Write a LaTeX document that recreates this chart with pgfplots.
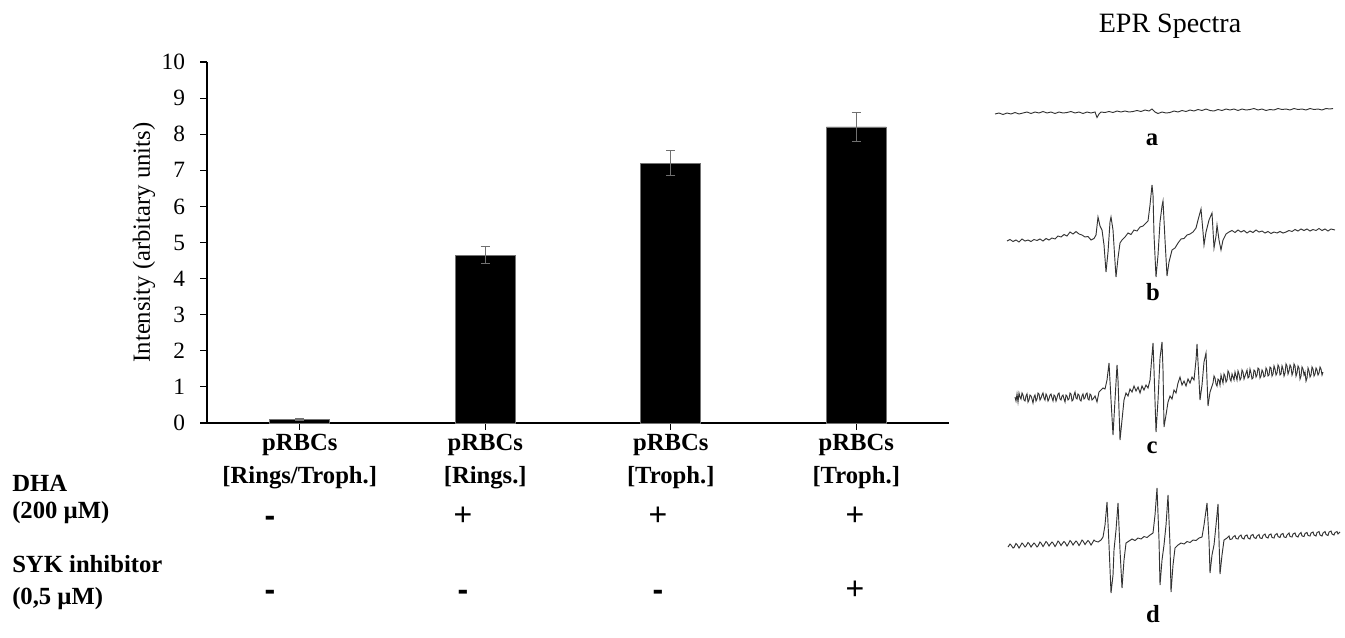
\documentclass[border=0pt]{standalone}
\usepackage{pgfplots}
\pgfplotsset{compat=1.18}
\usepackage{fontspec}
\setmainfont{Liberation Serif}
\newfontfamily\sansf{Liberation Sans}
\definecolor{spec}{HTML}{333333}
\definecolor{errc}{HTML}{707070}
\begin{document}
\begin{tikzpicture}
\useasboundingbox (0,0) rectangle (1008.75pt,-478.5pt);
% ---------------- bar chart ----------------
\begin{axis}[
  at={(155.25pt,-317.25pt)}, anchor=south west,
  scale only axis, width=556.5pt, height=270.75pt,
  ybar, bar width=45pt,
  xmin=-0.5, xmax=3.5, ymin=0, ymax=10,
  xtick={0,1,2,3},
  xticklabels={{pRBCs\\{}[Rings/Troph.]},{pRBCs\\{}[Rings.]},{pRBCs\\{}[Troph.]},{pRBCs\\{}[Troph.]}},
  xticklabel style={font=\bfseries\fontsize{18.5}{24.75}\selectfont, align=center},
  ytick={0,1,2,3,4,5,6,7,8,9,10},
  yticklabel style={font=\fontsize{17.5}{20}\selectfont, xshift=-8pt},
  /pgf/number format/assume math mode=true,
  axis x line=bottom, axis y line=left,
  axis line style={-, line width=0.8pt, black},
  tick align=outside, major tick length=5pt,
  tick style={line width=0.8pt, black},
  ylabel={Intensity (arbitary units)},
  ylabel style={font=\fontsize{18.5}{22}\selectfont, yshift=-2pt},
  clip=false,
]
\addplot[fill=black, draw=black!55, line width=0.5pt,
  error bars/.cd, y dir=both, y explicit,
  error bar style={errc, line width=0.8pt},
  error mark options={rotate=90, errc, line width=0.8pt, mark size=3.5pt}]
  coordinates {(0,0.1) +- (0,0.02) (1,4.65) +- (0,0.23) (2,7.2) +- (0,0.35) (3,8.2) +- (0,0.4)};
\end{axis}
% ---------------- EPR spectra ----------------
\begin{axis}[
  at={(735pt,-480pt)}, anchor=south west,
  scale only axis, width=273.75pt, height=420pt,
  xmin=980, xmax=1345, ymin=80, ymax=640, y dir=reverse,
  hide axis, clip=false,
]
% a
\addplot[spec, line width=0.7pt] coordinates {
(995,114) (999,113) (1003,114.5) (1007,113) (1011,114) (1015,112.5) (1019,114) (1023,113) (1027,112) (1031,113.5)
(1035,112) (1039,113) (1043,111.5) (1047,113) (1051,112) (1055,113.5) (1059,112) (1063,113) (1067,112.5) (1071,111.5)
(1075,113) (1079,112) (1083,113.5) (1087,112) (1091,113) (1095,112) (1097,117.5) (1099,114) (1101,112) (1105,112.5)
(1109,111.5) (1113,112.5) (1117,111) (1121,112) (1125,111) (1129,112) (1133,111.5) (1137,110.5) (1141,111.5) (1145,110)
(1149,111) (1152,109) (1155,112) (1158,113.5) (1162,112) (1166,113) (1170,112.5) (1174,111) (1178,112) (1182,110.5)
(1186,111.5) (1190,110) (1194,111) (1198,109.5) (1202,110.5) (1206,109) (1210,110.5) (1214,111) (1218,109.5) (1222,110.5)
(1226,109) (1230,110) (1234,109) (1238,110.5) (1242,109) (1246,110) (1250,109.5) (1254,108.5) (1258,110) (1262,109)
(1266,110.5) (1270,109.5) (1274,110) (1278,108.5) (1282,109.5) (1286,109) (1290,110) (1294,108.5) (1298,109.5) (1302,109)
(1306,110) (1310,108.5) (1314,109.5) (1318,109) (1322,110) (1326,108.5) (1330,109) (1333,108.5)};
% b
\addplot[spec, line width=0.7pt] coordinates {
(1007,241) (1010,239.5) (1013,241.5) (1016,240) (1019,242) (1022,239) (1025,241) (1028,240) (1031,241.5) (1034,239.5)
(1037,240.5) (1040,239) (1043,241) (1046,238.5) (1049,240) (1052,238) (1055,239) (1058,236) (1061,237) (1064,234.5)
(1067,236) (1070,232) (1073,234) (1076,231.5) (1079,234) (1082,235) (1085,237) (1088,236.5) (1091,240) (1094,238.5)
(1096,235) (1098,217) (1100,226) (1102,230) (1104,245) (1106,272) (1108,252) (1110,222) (1111,217) (1113,230)
(1115,262) (1116,277) (1118,258) (1120,243) (1122,240) (1125,237) (1128,233) (1131,234.5) (1134,230) (1137,231)
(1140,227) (1143,226) (1146,223) (1148,221) (1150,205) (1152,185) (1153,195) (1154,235) (1156,277) (1158,255)
(1160,222) (1162,206) (1163,201) (1165,240) (1167,276) (1169,262) (1172,250) (1175,248) (1178,243) (1181,239)
(1184,238.5) (1187,235) (1190,234) (1193,232) (1196,228) (1198,220) (1201,209) (1203,232) (1204,245) (1206,232)
(1209,220) (1212,213) (1214,248) (1216,236) (1217,225) (1219,240) (1221,250) (1223,240) (1226,234) (1229,232)
(1232,230.5) (1235,232.5) (1238,230) (1241,232) (1244,230.5) (1247,233) (1250,231) (1253,232.5) (1256,230) (1259,232)
(1262,231) (1265,233) (1268,231.5) (1271,233.5) (1274,232) (1277,233) (1280,231.5) (1283,233) (1286,232) (1289,230.5)
(1292,231.5) (1295,229.5) (1298,231) (1301,229) (1304,230.5) (1307,229) (1310,231) (1313,229.5) (1316,230.5) (1319,228.5)
(1322,230.5) (1325,229) (1328,231) (1331,229) (1335,230)};
% c
\addplot[spec, line width=0.7pt] coordinates {
(1015,397) (1016,401) (1017,394) (1018,402) (1019,393) (1020,397) (1021,399) (1022,393) (1023,395) (1024,400) (1025,401) (1026,396) (1027,394) (1028,402) (1029,400) (1030,395) (1031,396) (1032,399) (1033,403)
(1034,397) (1035,395) (1036,401) (1037,399) (1038,393) (1039,394) (1040,400) (1041,398) (1042,395) (1043,393) (1044,398) (1045,400) (1046,394) (1047,396) (1048,401) (1049,399) (1050,395) (1051,394) (1052,398) (1053,401)
(1054,395) (1055,396) (1056,401) (1057,398) (1058,394) (1059,393) (1060,399) (1061,400) (1062,396) (1063,395) (1064,399) (1065,402) (1066,395) (1067,396) (1068,400) (1069,399) (1070,393) (1071,394) (1072,401) (1073,400)
(1074,395) (1075,392) (1076,398) (1077,399) (1078,394) (1079,395) (1080,400) (1081,401) (1082,396) (1083,394) (1084,399) (1085,398) (1086,394) (1087,393) (1088,399) (1089,400) (1090,394) (1091,395) (1092,400) (1093,399)
(1095,396) (1097,402) (1099,392) (1101,390) (1103,388) (1105,389) (1107,380) (1109,363) (1111,400) (1113,435)
(1115,400) (1117,365) (1118,380) (1120,440) (1122,420) (1124,400) (1126,393) (1128,396) (1130,389) (1132,392)
(1134,386) (1136,391) (1138,387) (1140,393) (1142,386) (1144,390) (1146,385) (1148,388) (1150,380) (1152,355)
(1153,343) (1154,370) (1156,432) (1158,400) (1160,358) (1162,342) (1163,370) (1164,427) (1166,415) (1168,402)
(1170,396) (1172,399) (1174,390) (1176,393) (1178,383) (1180,377) (1182,385) (1184,381) (1186,386) (1188,379)
(1190,383) (1192,377) (1194,380) (1196,360) (1197,344) (1199,380) (1200,400) (1202,385) (1204,362) (1206,353)
(1207,380) (1208,406) (1210,392) (1213,383) (1214,376) (1215,378) (1216,384) (1217,386) (1218,379) (1219,380) (1220,385) (1221,375) (1222,379) (1223,383) (1224,374) (1225,376)
(1226,382) (1227,380) (1228,371) (1229,373) (1230,379) (1231,381) (1232,374) (1233,377) (1234,380) (1235,372) (1236,376) (1237,380) (1238,371) (1239,374) (1240,380) (1241,378) (1242,370) (1243,372) (1244,379) (1245,376)
(1246,373) (1247,370) (1248,378) (1249,377) (1250,369) (1251,373) (1252,379) (1253,378) (1254,370) (1255,371) (1256,377) (1257,375) (1258,368) (1259,369) (1260,378) (1261,376) (1262,370) (1263,372) (1264,377) (1265,376)
(1266,368) (1267,370) (1268,376) (1269,375) (1270,367) (1271,368) (1272,376) (1273,374) (1274,366) (1275,369) (1276,375) (1277,373) (1278,365) (1279,367) (1280,375) (1281,374) (1282,366) (1283,369) (1284,376) (1285,373)
(1286,364) (1287,366) (1288,374) (1289,371) (1290,365) (1291,367) (1292,375) (1293,372) (1294,364) (1295,366) (1296,376) (1297,373) (1298,366) (1299,368) (1300,379) (1301,376) (1302,367) (1303,369) (1304,375) (1305,372)
(1306,381) (1307,378) (1308,368) (1309,371) (1310,377) (1311,375) (1312,367) (1313,369) (1314,376) (1315,374) (1316,368) (1317,370) (1318,375) (1319,373) (1320,367) (1321,369) (1322,375) (1323,372)};
% d
\addplot[spec, line width=0.7pt] coordinates {
(1008,547) (1010,544) (1011,545) (1013,548) (1014,547.5) (1016,543.5) (1017,544.5) (1019,548) (1020,546.5) (1022,543) (1023,544) (1025,547) (1026,546) (1028,542.5) (1029,543.5) (1031,547) (1032,545.5) (1034,543) (1035,544)
(1037,547) (1038,546) (1040,542) (1041,543) (1043,546.5) (1044,545) (1046,541.5) (1047,542.5) (1049,546) (1050,544.5) (1052,542) (1053,543) (1055,546.5) (1056,545) (1058,541) (1059,542) (1061,545.5) (1062,544) (1064,541.5) (1065,542.5)
(1067,546) (1068,544.5) (1070,540.5) (1071,541.5) (1073,545) (1074,543.5) (1076,541) (1077,542) (1079,545.5) (1080,544) (1082,540) (1083,541) (1085,544.5) (1086,543) (1088,540.5) (1089,541.5) (1091,545) (1092,543.5) (1094,540) (1095,541)
(1098,542) (1101,540) (1103,537) (1105,525) (1107,502) (1109,545) (1111,593) (1113,575) (1114,550) (1116,530)
(1118,503) (1120,550) (1122,588) (1124,560) (1126,543) (1129,541) (1132,539) (1135,540.5) (1138,538) (1141,539)
(1144,536.5) (1147,537.5) (1150,535) (1153,533) (1155,515) (1157,488) (1159,540) (1160,585) (1162,560) (1164,545)
(1166,525) (1168,495) (1170,545) (1171,592) (1173,565) (1175,548) (1178,545) (1181,543) (1184,544) (1187,541.5)
(1190,542.5) (1193,540) (1196,540.5) (1199,538) (1202,537) (1204,525) (1207,503) (1209,540) (1210,573) (1212,555)
(1214,545) (1216,525) (1218,504) (1219,540) (1220,574) (1222,555) (1224,540) (1227,538) (1229,536) (1230,539.5) (1232,539) (1233,537)
(1235,535.5) (1236,538.5) (1238,539) (1239,536.5) (1241,535) (1242,538) (1244,539) (1245,536) (1247,535) (1248,538) (1250,539) (1251,535.5) (1253,534.5) (1254,537.5) (1256,538.5) (1257,536) (1259,534.5) (1260,538) (1262,538.5) (1263,535.5)
(1265,534) (1266,537) (1268,538) (1269,535) (1271,534) (1272,537.5) (1274,538) (1275,535) (1277,533.5) (1278,536.5) (1280,537.5) (1281,534.5) (1283,533.5) (1284,537) (1286,537.5) (1287,535) (1289,533) (1290,536.5) (1292,537) (1293,534)
(1295,533) (1296,536) (1298,537) (1299,534.5) (1301,532.5) (1302,536) (1304,536.5) (1305,533.5) (1307,532.5) (1308,535.5) (1310,536) (1311,533) (1313,532) (1314,535) (1316,536) (1317,532.5) (1319,531.5) (1320,535) (1322,536) (1323,533)
(1325,531.5) (1326,534.5) (1328,535.5) (1329,532) (1331,531) (1332,534) (1334,535) (1335,532.5) (1337,531.5) (1338,534) (1340,532)};
\end{axis}
% ---------------- text ----------------
\begin{scope}[x=0.75pt,y=-0.75pt]
\node[font=\fontsize{21}{24}\selectfont] at (1170,26) {EPR Spectra};
\node[font=\bfseries\fontsize{18.5}{22}\selectfont] at (1152,140) {a};
\node[font=\bfseries\fontsize{18.5}{22}\selectfont] at (1153,292) {b};
\node[font=\bfseries\fontsize{18.5}{22}\selectfont] at (1152,448) {c};
\node[font=\bfseries\fontsize{18.5}{22}\selectfont] at (1153,614) {d};
\begin{scope}[every node/.style={anchor=base west, inner sep=0pt, font=\bfseries\fontsize{18.5}{22}\selectfont}]
\node at (12,491) {DHA};
\node at (12,518) {(200 µM)};
\node at (12,572) {SYK inhibitor};
\node at (12,604) {(0,5 µM)};
\end{scope}
\begin{scope}[every node/.style={font=\sansf\fontsize{24}{26}\selectfont}]
\node at (270,521) {\textbf{-}};
\node at (463,516) {+};
\node at (658,516) {+};
\node at (855,516) {+};
\node at (270,595) {\textbf{-}};
\node at (463,595) {\textbf{-}};
\node at (658,595) {\textbf{-}};
\node at (855,590) {+};
\end{scope}
\end{scope}
\end{tikzpicture}
\end{document}
